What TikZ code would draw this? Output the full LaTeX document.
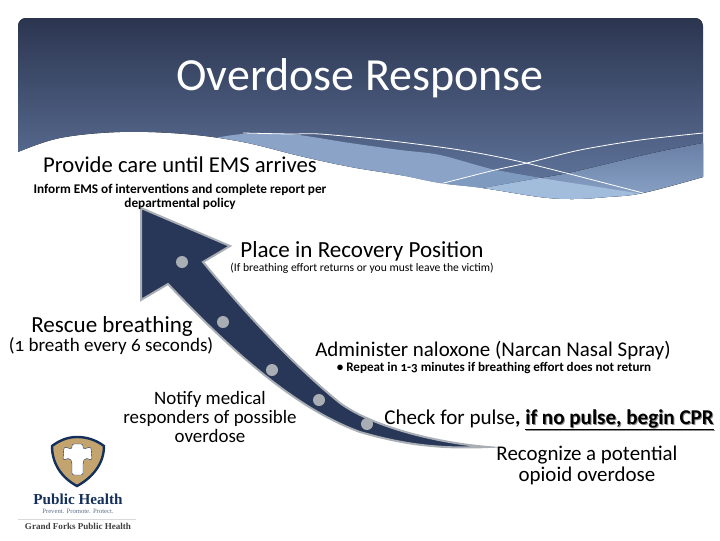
\documentclass[tikz,border=0pt]{standalone}
\usepackage{fontspec}
\setmainfont[Numbers=OldStyle]{Carlito}
\newfontfamily\logofont{Liberation Serif}
\definecolor{bannertop}{HTML}{2B3550}
\definecolor{bannerlow}{HTML}{5C7096}
\definecolor{bandmid}{HTML}{8AA3C7}
\definecolor{bandstrip}{HTML}{7F9ABF}
\definecolor{bandpale}{HTML}{A2BCDC}
\definecolor{arrownavy}{HTML}{283757}
\definecolor{arrowgrey}{HTML}{A9AEB5}
\definecolor{shieldnavy}{HTML}{14305A}
\definecolor{shieldtan}{HTML}{C4A46E}
\tikzset{
  lbl/.style={align=center, inner sep=0pt, text=black},
  stepdot/.style={fill=arrowgrey, draw=none},
  waveline/.style={draw=white, line width=0.6pt}
}
\newcommand{\sz}[2]{\fontsize{#1}{#2}\selectfont}
\begin{document}
\begin{tikzpicture}[x=0.75pt, y=-0.75pt]
    \useasboundingbox (0,0) rectangle (720,540);

    % Banner
    \begin{scope}
        \clip (703,177) [rounded corners=6] -- (703,18) -- (18,18) -- (18,152) [sharp corners]
            -- plot[smooth,tension=.6] coordinates {(18,152) (60,138) (120,132) (185,134) (243,142) (300,156) (351,167) (400,175) (440,183) (483,188) (540,197) (573,199) (607,197) (643,193) (703,177)} -- cycle;
        \fill[top color=bannertop, bottom color=bannerlow] (18,18) rectangle (703,175);
        \fill[bannerlow] (18,175) rectangle (703,210);
        % Bands
        \fill[bandmid] plot[smooth,tension=.5] coordinates {(215,138) (243,134) (290,134) (350,143) (400,150) (440,155) (495,170) (540,178)} -- (643,194) -- (560,240) -- (215,240) -- cycle;
        \fill[bandstrip] (440,184) -- (495,170) -- (540,178) -- (483,188) -- (483,240) -- (440,240) -- cycle;
        \fill[top color=bannerlow!70!bandmid, bottom color=bandmid] plot[smooth,tension=.5] coordinates {(483,188) (540,178) (573,172) (653,153) (703,143)} -- (703,200) -- (483,200) -- cycle;
        \fill[bandpale] (483,188) -- (540,178) -- (643,194) -- (560,240) -- (483,240) -- cycle;
        % White lines
        \draw[waveline] plot[smooth,tension=.5] coordinates {(243,133) (290,134) (320,134) (383,140) (460,150) (526,163) (643,193)};
        \draw[waveline] plot[smooth,tension=.5] coordinates {(440,184) (495,170) (527,163) (580,150) (640,140) (703,133)};
    \end{scope}

    % Arrow
    \draw[draw=arrowgrey, fill=arrownavy, line width=1.5pt, miter limit=20]
        (141,208) -- (230,246) -- (203,262)
        .. controls (237,303) and (287,360) .. (340,403)
        .. controls (370,425) and (430,442) .. (488,447)
        .. controls (440,449) and (405,445) .. (360,432)
        .. controls (300,410) and (240,360) .. (168,284)
        -- (141,300) -- cycle;
    \foreach \dotx/\doty in {182/262, 223/322, 272/370, 319/400, 367/424}
        \fill[stepdot] (\dotx,\doty) circle (6);

    % Title and steps
    \node[lbl, text=white, font=\sz{34.5}{38}] (title) at (360,78) {Overdose Response};
    \node[lbl, font=\sz{17}{20}] (provide) at (180,165) {Provide care until EMS arrives};
    \node[lbl, font=\bfseries\sz{9.95}{10.5}] (inform) at (180,197) {Inform EMS of interventions and complete report per\\departmental policy};
    \node[lbl, font=\sz{17.3}{20}] (recovery) at (362,251) {Place in Recovery Position};
    \node[lbl, font=\sz{8.7}{10}] (recoverynote) at (362,268) {(If breathing effort returns or you must leave the victim)};
    \node[lbl, font=\sz{17.3}{20}] (rescue) at (112,326) {Rescue breathing};
    \node[lbl, font=\sz{14.3}{16}] (rescuenote) at (111,346) {(1 breath every 6 seconds)};
    \node[lbl, font=\sz{15.7}{18}] (naloxone) at (493,351) {Administer naloxone (Narcan Nasal Spray)};
    \node[lbl, font=\bfseries\sz{9.8}{11}] (naloxonenote) at (494,368) {• Repeat in 1-3 minutes if breathing effort does not return};
    \node[lbl, font=\sz{14.2}{14.25}] (notify) at (210,417) {Notify medical\\responders of possible\\overdose};
    \node[lbl, text=black!45, font=\sz{15.8}{18}] (pulseshadow) at (550,421)
        {\phantom{Check for pulse}{\bfseries\phantom{, }\underline{if no pulse, begin CPR}}};
    \node[lbl, font=\sz{15.8}{18}] (pulse) at (549,420) {Check for pulse{\bfseries, \underline{if no pulse, begin CPR}}};
    \node[lbl, font=\sz{15.7}{15.75}] (recognize) at (587,465) {Recognize a potential\\opioid overdose};

    % Logo
    \draw[draw=shieldnavy, fill=shieldtan, line width=1.8pt]
        (52,446) .. controls (60,440) and (68,437) .. (77,437)
        .. controls (87,437) and (96,440) .. (104,446)
        .. controls (104,464) and (92,478) .. (77,486)
        .. controls (62,478) and (52,464) .. (52,446) -- cycle;
    \fill[white, draw=shieldnavy, line width=0.3pt, rounded corners=1.5]
        (72,444) -- (83,444) -- (83,449) -- (91,447) -- (92,460) -- (85,458) -- (83,462)
        -- (83,475) -- (72,475) -- (72,462) -- (70,458) -- (63,460) -- (64,447) -- (72,449) -- cycle;
    \node[lbl, text=shieldnavy, font=\logofont\bfseries\sz{11.4}{12}] (logoname) at (78,499.5) {Public Health};
    \node[lbl, text=shieldnavy!70, font=\logofont\sz{5}{6}] (logomotto) at (78,511) {Prevent. Promote. Protect.};
    \draw[black!15, line width=0.5pt] (18,519) -- (136,519);
    \node[lbl, text=black!75, font=\logofont\bfseries\sz{6.8}{8}] (logocity) at (78,526) {Grand Forks Public Health};
\end{tikzpicture}
\end{document}
